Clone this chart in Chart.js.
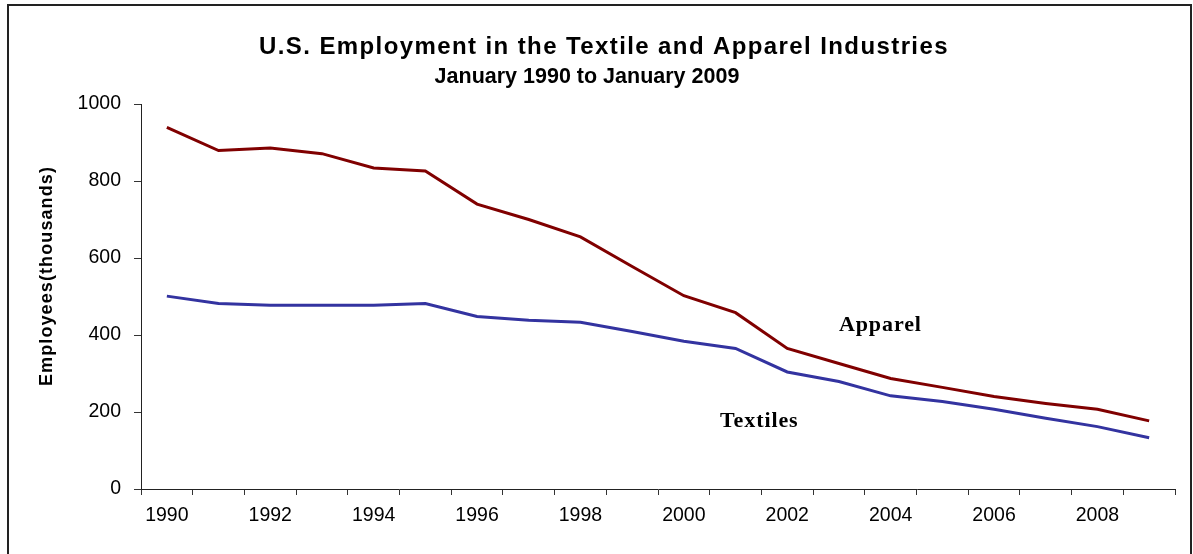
<!DOCTYPE html>
<html>
<head>
<meta charset="utf-8">
<script src="https://cdn.jsdelivr.net/npm/chart.js@4.4.1/dist/chart.umd.min.js"></script>
<style>
  html, body { margin: 0; padding: 0; background: #fff; }
  #wrap { width: 1193px; height: 554px; }
</style>
</head>
<body>
<div id="wrap"><canvas id="myChart" width="1193" height="554"></canvas></div>
<script>
const years = ["1990", "1991", "1992", "1993", "1994", "1995", "1996", "1997", "1998", "1999",
  "2000", "2001", "2002", "2003", "2004", "2005", "2006", "2007", "2008", "2009"];
const tickLabels = ["1990", "", "1992", "", "1994", "", "1996", "", "1998", "",
  "2000", "", "2002", "", "2004", "", "2006", "", "2008", ""];
const apparel = [939, 879, 886, 871, 834, 826, 740, 700, 655, 578,
  502, 458, 365, 326, 287, 264, 240, 222, 207, 177];
const textiles = [501, 482, 477, 477, 477, 482, 448, 438, 433, 409,
  384, 365, 304, 279, 242, 227, 207, 184, 162, 133];
const yTicks = [0, 200, 400, 600, 800, 1000];

const titleLines = ["U.S. Employment in the Textile and Apparel Industries", "January 1990 to January 2009"];
const yTitle = "Employees(thousands)";

const SANS = "'Liberation Sans', Arial, sans-serif";
const SERIF = "'Liberation Serif', 'Times New Roman', serif";

// labels placed inside the plot: x as category index, y as axis value
const seriesLabels = [
  { text: "Apparel", x: 13.0, y: 411 },
  { text: "Textiles", x: 10.7, y: 162 },
];

const decorations = {
  id: "decorations",
  afterDraw(chart) {
    const ctx = chart.ctx;
    const xs = chart.scales.x;
    const ys = chart.scales.y;
    ctx.save();
    ctx.fillStyle = "#000";
    ctx.textBaseline = "middle";
    ctx.textAlign = "center";

    // titles
    ctx.font = "bold 24px " + SANS;
    ctx.letterSpacing = "1.4px";
    ctx.fillText(titleLines[0], 604, 47);
    ctx.font = "bold 21.5px " + SANS;
    ctx.letterSpacing = "0px";
    ctx.fillText(titleLines[1], 587, 77);

    // y axis title
    ctx.save();
    ctx.translate(47, 276);
    ctx.rotate(-Math.PI / 2);
    ctx.font = "bold 18px " + SANS;
    ctx.letterSpacing = "1.1px";
    ctx.fillText(yTitle, 0, 0);
    ctx.restore();

    // series labels
    ctx.textAlign = "left";
    ctx.textBaseline = "alphabetic";
    ctx.font = "bold 22px " + SERIF;
    ctx.letterSpacing = "0.9px";
    seriesLabels.forEach((l) => {
      const px = xs.getPixelForValue(0) + (xs.getPixelForValue(1) - xs.getPixelForValue(0)) * l.x;
      ctx.fillText(l.text, px, ys.getPixelForValue(l.y));
    });

    // outer frame
    ctx.letterSpacing = "0px";
    ctx.strokeStyle = "#222";
    ctx.lineWidth = 2;
    ctx.strokeRect(8, 5, 1183, 600);
    ctx.restore();
  },
};

function renderChart(ctx) {
  new Chart(ctx, {
    type: "line",
    data: {
      labels: years,
      datasets: [
        {
          label: "Apparel",
          data: apparel,
          borderColor: "#800000",
          borderWidth: 3,
          pointRadius: 0,
          fill: false,
          tension: 0,
        },
        {
          label: "Textiles",
          data: textiles,
          borderColor: "#3333a0",
          borderWidth: 3,
          pointRadius: 0,
          fill: false,
          tension: 0,
        },
      ],
    },
    options: {
      responsive: false,
      animation: false,
      layout: { padding: { left: 0, right: 18, top: 104, bottom: 0 } },
      plugins: {
        legend: { display: false },
        title: { display: false },
        tooltip: { enabled: false },
      },
      scales: {
        x: {
          type: "category",
          offset: true,
          afterFit(scale) {
            scale.height = 65;
          },
          grid: {
            offset: true,
            drawOnChartArea: false,
            drawTicks: true,
            tickLength: 6,
            color: "#333",
          },
          border: { color: "#222", width: 1 },
          ticks: {
            autoSkip: false,
            maxRotation: 0,
            padding: 9,
            color: "#000",
            font: { family: SANS, size: 19.5 },
            callback: (v, i) => tickLabels[i],
          },
        },
        y: {
          min: 0,
          max: 1000,
          afterFit(scale) {
            scale.width = 141;
          },
          afterBuildTicks(scale) {
            scale.ticks = yTicks.map((v) => ({ value: v }));
          },
          grid: {
            drawOnChartArea: false,
            tickLength: 7,
            color: "#333",
          },
          border: { color: "#222", width: 1 },
          ticks: {
            padding: 13,
            color: "#000",
            font: { family: SANS, size: 19.5 },
            callback: (v) => String(v),
          },
        },
      },
    },
    plugins: [decorations],
  });
}

function setup() {
  const ctx = document.getElementById("myChart").getContext("2d");
  renderChart(ctx);
}

window.addEventListener("load", setup);
</script>
</body>
</html>
